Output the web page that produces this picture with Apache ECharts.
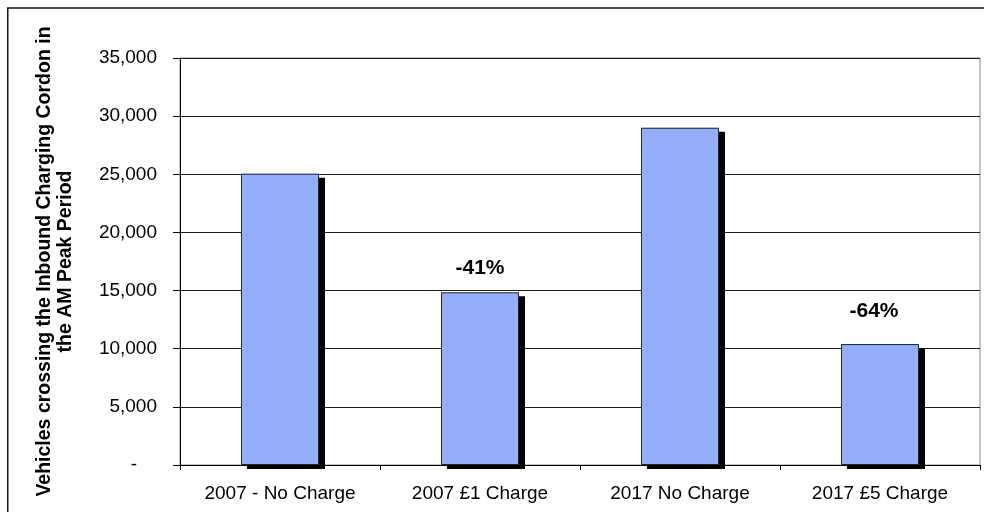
<!DOCTYPE html>
<html>
<head>
<meta charset="utf-8">
<script src="https://cdn.jsdelivr.net/npm/echarts@6/dist/echarts.min.js"></script>
<style>
  html, body { margin: 0; padding: 0; background: #fff; }
  #chart { width: 984px; height: 512px; }
</style>
</head>
<body>
<div id="chart"></div>
<script>
// Inbound AM-peak cordon crossings by scenario
const categories = ['2007 - No Charge', '2007 £1 Charge', '2017 No Charge', '2017 £5 Charge'];
const vehicles = [25050, 14850, 29000, 10400];
// Which scenario each bar's change label is measured against (null = no label)
const baselineIndex = [null, 0, null, 2];
// Value axis range and step
const yMin = 0;
const yMax = 35000;
const yStep = 5000;

const FONT = '"Liberation Sans", Arial, Helvetica, sans-serif';

// Per-bar placement of the change labels
const changeLabelStyle = {
  1: { distance: 14, offset: [0, 0] },
  3: { distance: 22, offset: [-6, 0] }
};

function changeText(i) {
  const b = baselineIndex[i];
  if (b == null) return '';
  return Math.round((vehicles[i] / vehicles[b] - 1) * 100) + '%';
}

const barData = vehicles.map((v, i) => {
  const item = { value: v };
  if (changeLabelStyle[i]) {
    item.label = {
      show: true,
      position: 'top',
      distance: changeLabelStyle[i].distance,
      offset: changeLabelStyle[i].offset
    };
  }
  return item;
});

const chart = echarts.init(document.getElementById('chart'), null, { renderer: 'canvas' });

chart.setOption({
  animation: false,
  backgroundColor: '#ffffff',
  textStyle: { fontFamily: FONT },
  graphic: [{
    type: 'rect',
    silent: true,
    shape: { x: 7.75, y: 8, width: 1000, height: 600 },
    style: { fill: 'none', stroke: '#111', lineWidth: 1.5 }
  }],
  grid: {
    left: 180, right: 4, top: 58, bottom: 47,
    show: true,
    borderColor: '#8a8a8a',
    borderWidth: 1,
    backgroundColor: 'transparent'
  },
  xAxis: {
    type: 'category',
    data: categories,
    axisLine: { lineStyle: { color: '#000', width: 1 } },
    axisTick: { show: true, length: 5, lineStyle: { color: '#000' } },
    axisLabel: { color: '#000', fontSize: 19, margin: 19, fontFamily: FONT }
  },
  yAxis: {
    type: 'value',
    min: yMin,
    max: yMax,
    interval: yStep,
    name: 'Vehicles crossing the Inbound Charging Cordon in\nthe AM Peak Period',
    nameLocation: 'middle',
    nameGap: 104,
    nameTextStyle: {
      color: '#000', fontSize: 19.5, fontWeight: 'bold', fontFamily: FONT,
      lineHeight: 21, align: 'center'
    },
    axisLine: { show: true, lineStyle: { color: '#000', width: 1 } },
    axisTick: { show: true, length: 7, lineStyle: { color: '#000' } },
    splitLine: { show: true, lineStyle: { color: '#1a1a1a', width: 1 } },
    axisLabel: {
      color: '#000', fontSize: 19, margin: 23, fontFamily: FONT,
      formatter: v => v === 0 ? '{dash|-}' : v.toLocaleString('en-US'),
      rich: { dash: { fontSize: 19, color: '#000', padding: [0, 20, 0, 0], fontFamily: FONT } }
    }
  },
  series: [
    {
      // filled bars with their drop shadow
      name: 'Vehicles',
      type: 'bar',
      data: barData,
      barWidth: 78,
      barGap: '-100%',
      z: 2,
      itemStyle: {
        color: '#95aefc',
        borderWidth: 0,
        shadowColor: '#000',
        shadowBlur: 0,
        shadowOffsetX: 6,
        shadowOffsetY: 4
      },
      label: {
        show: false,
        color: '#000',
        fontSize: 21,
        fontWeight: 'bold',
        fontFamily: FONT,
        formatter: p => changeText(p.dataIndex)
      },
      emphasis: { disabled: true }
    },
    {
      // dark outline drawn over the fill, without a shadow
      name: 'Vehicles outline',
      type: 'bar',
      data: vehicles,
      barWidth: 78,
      barGap: '-100%',
      z: 3,
      itemStyle: {
        color: 'transparent',
        borderColor: '#1e2638',
        borderWidth: 1
      },
      emphasis: { disabled: true }
    }
  ]
});
</script>
</body>
</html>
